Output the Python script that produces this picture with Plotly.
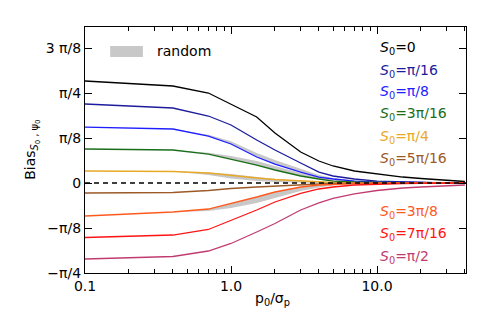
import numpy as np
import plotly.graph_objects as go

# x positions (p0 / sigma_p)
x_vals = [0.1, 0.4, 0.7, 1.0, 1.5, 2, 3, 4, 5, 7, 10, 15, 20, 30, 40]

# bias values in units of pi/8
bias_0      = [2.267, 2.156, 2.0, 1.756, 1.467, 1.111, 0.689, 0.489, 0.378, 0.267, 0.2, 0.133, 0.1, 0.056, 0.033]
bias_pi16   = [1.756, 1.667, 1.489, 1.289, 0.956, 0.733, 0.444, 0.244, 0.156, 0.089, 0.044, 0.022, 0.011, 0.0, 0.0]
bias_pi8    = [1.244, 1.2, 1.044, 0.867, 0.578, 0.422, 0.244, 0.133, 0.089, 0.044, 0.022, 0.011, 0.0, 0.0, 0.0]
bias_3pi16  = [0.756, 0.733, 0.644, 0.533, 0.4, 0.289, 0.156, 0.089, 0.044, 0.022, 0.011, 0.0, 0.0, 0.0, 0.0]
bias_pi4    = [0.267, 0.256, 0.222, 0.167, 0.111, 0.078, 0.044, 0.022, 0.011, 0.0, 0.0, 0.0, 0.0, 0.0, 0.0]
bias_5pi16  = [-0.222, -0.211, -0.167, -0.122, -0.089, -0.067, -0.033, -0.022, -0.011, -0.004, 0.0, 0.0, 0.0, 0.0, 0.0]
bias_3pi8   = [-0.733, -0.644, -0.578, -0.456, -0.311, -0.2, -0.089, -0.044, -0.029, -0.013, -0.004, 0.0, 0.0, 0.0, 0.0]
bias_7pi16  = [-1.211, -1.156, -1.033, -0.833, -0.6, -0.422, -0.233, -0.133, -0.089, -0.044, -0.022, -0.011, -0.007, -0.002, 0.0]
bias_pi2    = [-1.689, -1.633, -1.511, -1.344, -1.089, -0.9, -0.6, -0.444, -0.344, -0.244, -0.167, -0.111, -0.089, -0.056, -0.044]

series_labels = ["<i>S</i><sub>0</sub>=0", "<i>S</i><sub>0</sub>=π/16", "<i>S</i><sub>0</sub>=π/8",
                 "<i>S</i><sub>0</sub>=3π/16", "<i>S</i><sub>0</sub>=π/4", "<i>S</i><sub>0</sub>=5π/16",
                 "<i>S</i><sub>0</sub>=3π/8", "<i>S</i><sub>0</sub>=7π/16", "<i>S</i><sub>0</sub>=π/2"]
series_values = [bias_0, bias_pi16, bias_pi8, bias_3pi16, bias_pi4, bias_5pi16, bias_3pi8, bias_7pi16, bias_pi2]
colors = ["#000000", "#1c1c9c", "#1e1eff", "#1a6e1a", "#e8a828", "#9c5a28", "#ff5a1e", "#ff1414", "#c03c70"]

# "random" spread bands (units of pi/8)
random_x = [0.4, 0.7, 1.0, 1.5, 2, 3, 4, 5, 7, 10]
rand_pi8_hi   = [1.2, 1.07, 0.93, 0.667, 0.511, 0.311, 0.178, 0.111, 0.06, 0.03]
rand_pi8_lo   = [1.2, 1.044, 0.867, 0.578, 0.422, 0.244, 0.133, 0.089, 0.044, 0.022]
rand_3pi16_hi = [0.733, 0.67, 0.6, 0.489, 0.378, 0.222, 0.133, 0.067, 0.035, 0.015]
rand_3pi16_lo = [0.733, 0.644, 0.533, 0.4, 0.289, 0.156, 0.089, 0.044, 0.022, 0.011]
rand_pi4_hi   = [0.256, 0.233, 0.2, 0.13, 0.09, 0.05, 0.025, 0.012, 0.0, 0.0]
rand_pi4_lo   = [0.256, 0.178, 0.1, 0.044, 0.022, 0.0, 0.0, 0.0, 0.0, 0.0]
rand_3pi8_hi  = [-0.644, -0.578, -0.456, -0.311, -0.2, -0.089, -0.044, -0.029, -0.013, -0.004]
rand_3pi8_lo  = [-0.644, -0.62, -0.556, -0.444, -0.333, -0.178, -0.1, -0.056, -0.022, -0.007]
bands = [(rand_pi8_lo, rand_pi8_hi), (rand_3pi16_lo, rand_3pi16_hi),
         (rand_pi4_lo, rand_pi4_hi), (rand_3pi8_lo, rand_3pi8_hi)]

y_tickvals_units = [-2, -1, 0, 1, 2, 3]
y_ticktext = ["−π/4", "−π/8", "0", "π/8", "π/4", "3 π/8"]
x_tickvals = [0.1, 1.0, 10.0]
x_ticktext = ["0.1", "1.0", "10.0"]

unit = np.pi / 8
FONT = "DejaVu Sans"
GRAY = "#c8c8c8"

fig = go.Figure()

for lo, hi in bands:
    fig.add_trace(go.Scatter(x=random_x, y=np.array(hi) * unit, mode="lines",
                             line=dict(width=0, color=GRAY), showlegend=False, hoverinfo="skip"))
    fig.add_trace(go.Scatter(x=random_x, y=np.array(lo) * unit, mode="lines",
                             line=dict(width=0, color=GRAY), fill="tonexty", fillcolor=GRAY,
                             showlegend=False, hoverinfo="skip"))

for vals, col, lab in zip(series_values, colors, series_labels):
    fig.add_trace(go.Scatter(x=x_vals, y=np.array(vals) * unit, mode="lines",
                             line=dict(color=col, width=1.3), name=lab, showlegend=False))

fig.add_hline(y=0, line=dict(color="black", width=1.3, dash="5px,4px"))

# label annotations
label_y = [0.915, 0.821, 0.736, 0.646, 0.553, 0.463, 0.248, 0.159, 0.065]
for lab, col, yy in zip(series_labels, colors, label_y):
    fig.add_annotation(x=0.769, y=yy, xref="paper", yref="paper", text=lab, showarrow=False,
                       xanchor="left", yanchor="middle", font=dict(family=FONT, size=14, color=col))

# "random" legend
fig.add_shape(type="rect", xref="paper", yref="paper", x0=0.066, x1=0.152, y0=0.878, y1=0.923,
              fillcolor=GRAY, line=dict(width=0))
fig.add_annotation(x=0.184, y=0.902, xref="paper", yref="paper", text="random", showarrow=False,
                   xanchor="left", yanchor="middle", font=dict(family=FONT, size=14, color="black"))

# axis titles
fig.add_annotation(x=-0.171, y=0.5, xref="paper", yref="paper",
                   text="Bias<sub><i>S</i><sub>0</sub> , ψ<sub>0</sub></sub>", textangle=-90,
                   showarrow=False, font=dict(family=FONT, size=14, color="black"))
fig.add_annotation(x=0.493, y=-0.15, xref="paper", yref="paper",
                   text="p<sub>0</sub>/σ<sub>p</sub>", showarrow=False,
                   font=dict(family=FONT, size=14, color="black"))

fig.update_xaxes(type="log", range=[-1, np.log10(40.7)], tickvals=x_tickvals, ticktext=x_ticktext,
                 ticks="inside", ticklen=7, tickcolor="black", showline=True, linecolor="black",
                 linewidth=1.3, mirror="ticks", showgrid=False, zeroline=False,
                 minor=dict(ticks="inside", ticklen=4, tickcolor="black", dtick="D1", showgrid=False),
                 tickfont=dict(family=FONT, size=14, color="black"))
fig.update_yaxes(range=[-2 * unit, 3.467 * unit], tickvals=[v * unit for v in y_tickvals_units],
                 ticktext=y_ticktext, ticks="inside", ticklen=7, tickcolor="black", showline=True,
                 linecolor="black", linewidth=1.3, mirror="ticks", showgrid=False, zeroline=False,
                 tickfont=dict(family=FONT, size=14, color="black"))

# page body has an 8px margin: shrink figure so the plot area lands where the reference has it
fig.update_layout(width=483, height=319, margin=dict(l=77, r=25, t=19, b=54),
                  plot_bgcolor="white", paper_bgcolor="white", showlegend=False)

fig.write_html("out.html")
